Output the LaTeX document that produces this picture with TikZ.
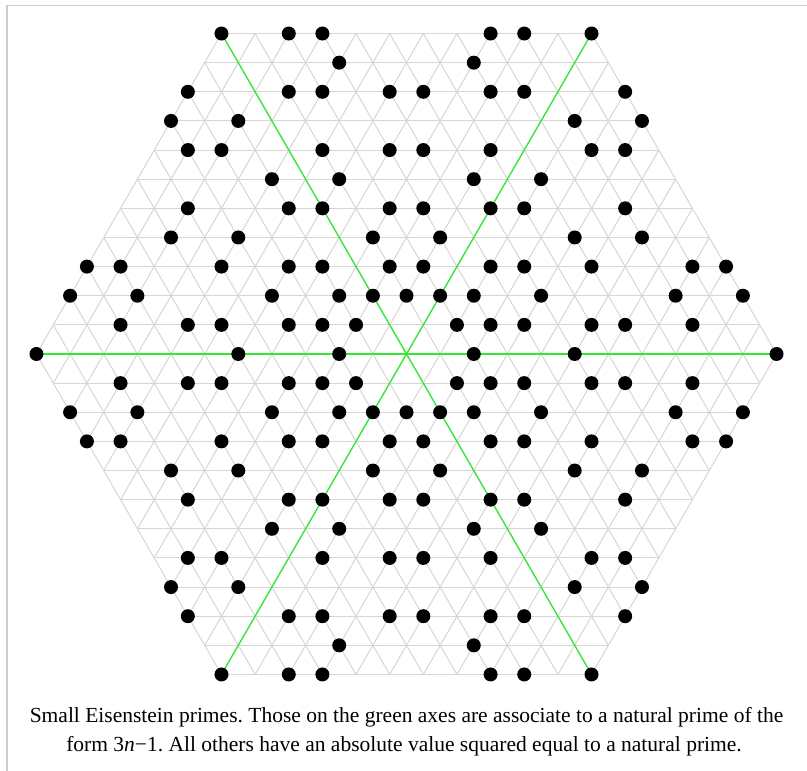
\documentclass[tikz,border=0pt]{standalone}
\usepackage{fontspec}
\setmainfont{Liberation Serif}
\frenchspacing
\definecolor{gridgray}{RGB}{214,214,214}
\definecolor{framegray}{RGB}{204,204,204}
\definecolor{axisgreen}{RGB}{50,232,50}
\tikzset{
  gridline/.style={draw=gridgray, line width=1pt},
  axisline/.style={draw=axisgreen, line width=1.3pt},
  framestyle/.style={draw=framegray, line width=1.5pt},
  primedot/.style={fill=black},
  captiontext/.style={font=\fontsize{21.5}{29}\selectfont, anchor=base, inner sep=0pt}
}
\begin{document}
\begin{tikzpicture}[x=1pt,y=1pt]
\useasboundingbox (0,0) rectangle (807,771);
\draw[framestyle] (7,0) -- (7,765.5) -- (807,765.5);
\begin{scope}[shift={(406.5,417)}, x=33.64pt, y=33.64pt]
  % triangular lattice clipped to hexagon of radius 11
  \foreach \k in {-11,...,11} {
    \pgfmathsetmacro\xa{max(-11,-11-(\k))+0.5*(\k)}
    \pgfmathsetmacro\xb{min(11,11-(\k))+0.5*(\k)}
    \pgfmathsetmacro\yy{0.8660254*(\k)}
    \foreach \r in {0,60,120} {
      \draw[gridline, rotate=\r] (\xa,\yy) -- (\xb,\yy);
    }
  }
  % green axes
  \foreach \r in {0,60,120} {
    \draw[axisline, rotate=\r] (-11,0) -- (11,0);
  }
  % Eisenstein primes
  \foreach \m in {-11,...,11} {
    \foreach \n in {-11,...,11} {
      \pgfmathtruncatemacro\hd{max(abs(\m),abs(\n),abs(\m+\n))}
      \ifnum\hd<12
        \pgfmathtruncatemacro\N{(\m)*(\m)+(\m)*(\n)+(\n)*(\n)}
        \foreach \p in {3,4,7,13,19,25,31,37,43,61,67,73,79,97,103,109,121} {
          \ifnum\N=\p
            \fill[primedot] ({\m+0.5*(\n)},{0.8660254*(\n)}) circle[radius=7pt];
          \fi
        }
      \fi
    }
  }
\end{scope}
\node[captiontext] (cap1) at (406.5,48) {Small Eisenstein primes. Those on the green axes are associate to a natural prime of the};
\node[captiontext] (cap2) at (404,19) {form 3\textit{n}−1. All others have an absolute value squared equal to a natural prime.};
\end{tikzpicture}
\end{document}
